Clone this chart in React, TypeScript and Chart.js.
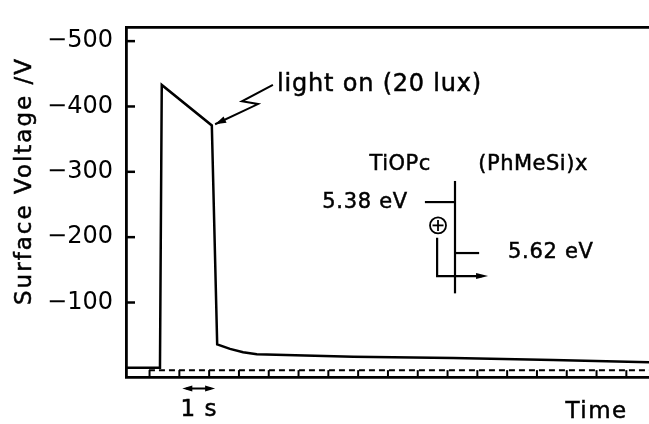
import React, { useEffect, useRef } from 'react';
import { Chart, registerables } from 'chart.js';

Chart.register(...registerables);

// ---- data (seconds, volts) ----
const timeS = [-0.79, 0.35, 0.41, 2.09, 2.27, 2.7, 3.14, 3.6, 6.83, 10.19, 13.54, 16.76];
const surfaceVoltage = [0, 0, -433, -371, -36, -29, -24, -21, -17, -15, -12, -8.5];
const referenceTime = [-0.02, 16.76];
const referenceVoltage = [3.5, 3.5];
const timeMarkSeconds = [0, 1, 2, 3, 4, 5, 6, 7, 8, 9, 10, 11, 12, 13, 14, 15, 16];
const yTickValues = [-100, -200, -300, -400, -500];

const X_MIN = -0.79;
const X_MAX = 16.76;
const Y_MIN = -521;
const Y_MAX = 14;

const FONT = '"DejaVu Sans", sans-serif';

// annotation anchors in data units (t, V)
const ANN = {
  lightText: [4.28, -433],
  lightArrow: [
    [4.14, -433],
    [3.1, -408],
    [3.64, -403.7],
    [2.2, -372.8],
  ],
  tiopc: [8.41, -311],
  phmesi: [12.87, -311],
  e538: [8.67, -253.7],
  e538Line: [9.24, 10.25, -253.7],
  interface: [10.25, -286, -114],
  hole: [9.68, -218],
  holePath: [
    [9.65, -199],
    [9.65, -140.4],
    [11.36, -140.4],
  ],
  e562Line: [10.25, 11.06, -175.7],
  e562: [12.03, -175.7],
  oneSecArrow: [1.1, 2.2, 31.6],
  oneSecText: [1.66, 65],
  timeText: [15.0, 67],
};

function arrowHead(ctx: CanvasRenderingContext2D, fx: number, fy: number, tx: number, ty: number, len: number, half: number) {
  const a = Math.atan2(ty - fy, tx - fx);
  ctx.beginPath();
  ctx.moveTo(tx, ty);
  ctx.lineTo(tx - len * Math.cos(a) + half * Math.sin(a), ty - len * Math.sin(a) - half * Math.cos(a));
  ctx.lineTo(tx - len * Math.cos(a) - half * Math.sin(a), ty - len * Math.sin(a) + half * Math.cos(a));
  ctx.closePath();
  ctx.fill();
}

const decorPlugin = {
  id: 'decor',
  afterDraw(chart: any) {
    const ctx: CanvasRenderingContext2D = chart.ctx;
    const xs = chart.scales.x;
    const ys = chart.scales.y;
    const X = (t: number) => xs.getPixelForValue(t);
    const Y = (v: number) => ys.getPixelForValue(v);
    const area = chart.chartArea;
    const line = (x1: number, y1: number, x2: number, y2: number, w: number) => {
      ctx.lineWidth = w;
      ctx.beginPath();
      ctx.moveTo(x1, y1);
      ctx.lineTo(x2, y2);
      ctx.stroke();
    };
    const text = (s: string, x: number, y: number, size: number, align: CanvasTextAlign, spacing: number) => {
      ctx.font = `${size}px ${FONT}`;
      (ctx as any).letterSpacing = `${spacing}px`;
      ctx.textAlign = align;
      ctx.textBaseline = 'middle';
      ctx.fillText(s, x, y);
      ctx.lineWidth = 0.5;
      ctx.strokeText(s, x, y);
      (ctx as any).letterSpacing = '0px';
    };

    ctx.save();
    ctx.strokeStyle = '#000';
    ctx.fillStyle = '#000';
    ctx.lineCap = 'butt';

    // inner y ticks
    yTickValues.forEach((v) => line(area.left, Y(v), area.left + 9, Y(v), 2.5));

    // time marks hanging from the dashed reference line
    const yd = Y(referenceVoltage[0]);
    timeMarkSeconds.forEach((s) => line(X(s), yd, X(s), area.bottom, 2));

    // light-on zigzag arrow
    ctx.lineWidth = 2;
    ctx.beginPath();
    ANN.lightArrow.forEach(([t, v], i) => (i === 0 ? ctx.moveTo(X(t), Y(v)) : ctx.lineTo(X(t), Y(v))));
    ctx.stroke();
    const la = ANN.lightArrow;
    arrowHead(ctx, X(la[2][0]), Y(la[2][1]), X(la[3][0]), Y(la[3][1]), 11, 3.5);
    text('light on (20 lux)', X(ANN.lightText[0]), Y(ANN.lightText[1]), 24, 'left', 0.8);

    // energy diagram
    text('TiOPc', X(ANN.tiopc[0]), Y(ANN.tiopc[1]), 21, 'center', 0.5);
    text('(PhMeSi)x', X(ANN.phmesi[0]), Y(ANN.phmesi[1]), 21, 'center', 0.5);
    text('5.38 eV', X(ANN.e538[0]), Y(ANN.e538[1]), 21, 'right', 0.7);
    text('5.62 eV', X(ANN.e562[0]), Y(ANN.e562[1]), 21, 'left', 0.7);
    line(X(ANN.e538Line[0]), Y(ANN.e538Line[2]), X(ANN.e538Line[1]), Y(ANN.e538Line[2]), 2.2);
    line(X(ANN.interface[0]), Y(ANN.interface[1]), X(ANN.interface[0]), Y(ANN.interface[2]), 2.2);
    line(X(ANN.e562Line[0]), Y(ANN.e562Line[2]), X(ANN.e562Line[1]), Y(ANN.e562Line[2]), 2.2);
    // hole symbol
    const hx = X(ANN.hole[0]);
    const hy = Y(ANN.hole[1]);
    ctx.lineWidth = 1.8;
    ctx.beginPath();
    ctx.arc(hx, hy, 8, 0, Math.PI * 2);
    ctx.stroke();
    line(hx - 5.5, hy, hx + 5.5, hy, 1.8);
    line(hx, hy - 5.5, hx, hy + 5.5, 1.8);
    // hole transfer path
    ctx.lineWidth = 2.2;
    ctx.beginPath();
    ANN.holePath.forEach(([t, v], i) => (i === 0 ? ctx.moveTo(X(t), Y(v)) : ctx.lineTo(X(t) - (i === 2 ? 6 : 0), Y(v))));
    ctx.stroke();
    const hp = ANN.holePath;
    arrowHead(ctx, X(hp[1][0]), Y(hp[1][1]), X(hp[2][0]), Y(hp[2][1]), 12, 3);

    // 1 s double arrow
    const a1 = X(ANN.oneSecArrow[0]);
    const a2 = X(ANN.oneSecArrow[1]);
    const ay = Y(ANN.oneSecArrow[2]);
    line(a1 + 4, ay, a2 - 4, ay, 2);
    arrowHead(ctx, a2, ay, a1, ay, 10, 3);
    arrowHead(ctx, a1, ay, a2, ay, 10, 3);
    text('1 s', X(ANN.oneSecText[0]), Y(ANN.oneSecText[1]), 23, 'center', 1);
    text('Time', X(ANN.timeText[0]), Y(ANN.timeText[1]), 23, 'center', 1.5);

    // y axis title
    ctx.save();
    ctx.translate(25, 181);
    ctx.rotate(-Math.PI / 2);
    text('Surface Voltage /V', 0, 0, 23, 'center', 2);
    ctx.restore();

    ctx.restore();
  },
};

export default function App() {
  const ref = useRef<HTMLCanvasElement | null>(null);

  useEffect(() => {
    document.body.style.margin = '0';
    const canvas = ref.current;
    if (!canvas) return;
    const chart = new Chart(canvas, {
      type: 'line',
      data: {
        datasets: [
          {
            data: timeS.map((t, i) => ({ x: t, y: surfaceVoltage[i] })),
            borderColor: '#000',
            borderWidth: 2.5,
            pointRadius: 0,
            tension: 0,
            fill: false,
          },
          {
            data: referenceTime.map((t, i) => ({ x: t, y: referenceVoltage[i] })),
            borderColor: '#000',
            borderWidth: 2,
            borderDash: [6, 4],
            pointRadius: 0,
            tension: 0,
            fill: false,
          },
        ],
      },
      options: {
        animation: false,
        responsive: false,
        layout: { padding: { left: 0, right: 0, top: 13, bottom: 47 } },
        plugins: { legend: { display: false }, tooltip: { enabled: false } },
        scales: {
          x: {
            type: 'linear',
            position: 'bottom',
            min: X_MIN,
            max: X_MAX,
            ticks: { display: false },
            grid: { display: true, drawOnChartArea: false, drawTicks: false },
            border: { display: true, color: '#000', width: 2.8 },
            afterFit: (s: any) => {
              s.height = 0;
            },
          },
          x2: {
            type: 'linear',
            position: 'top',
            min: X_MIN,
            max: X_MAX,
            ticks: { display: false },
            grid: { display: true, drawOnChartArea: false, drawTicks: false },
            border: { display: true, color: '#000', width: 2.8 },
            afterFit: (s: any) => {
              s.height = 0;
            },
          },
          y: {
            type: 'linear',
            reverse: true,
            min: Y_MIN,
            max: Y_MAX,
            afterBuildTicks: (s: any) => {
              s.ticks = yTickValues.map((v) => ({ value: v }));
            },
            afterFit: (s: any) => {
              s.width = 126;
            },
            ticks: {
              autoSkip: false,
              padding: 13,
              color: '#000',
              font: { family: FONT, size: 24 },
              callback: (v: any) => '\u2212' + Math.abs(Number(v)),
            },
            grid: { display: true, drawOnChartArea: false, drawTicks: false },
            border: { display: true, color: '#000', width: 2.8 },
          },
        },
      } as any,
      plugins: [decorPlugin],
    });
    return () => chart.destroy();
  }, []);

  return (
    <div style={{ width: 649, height: 424, background: '#fff' }}>
      <canvas ref={ref} width={649} height={424} style={{ display: 'block' }} />
    </div>
  );
}
